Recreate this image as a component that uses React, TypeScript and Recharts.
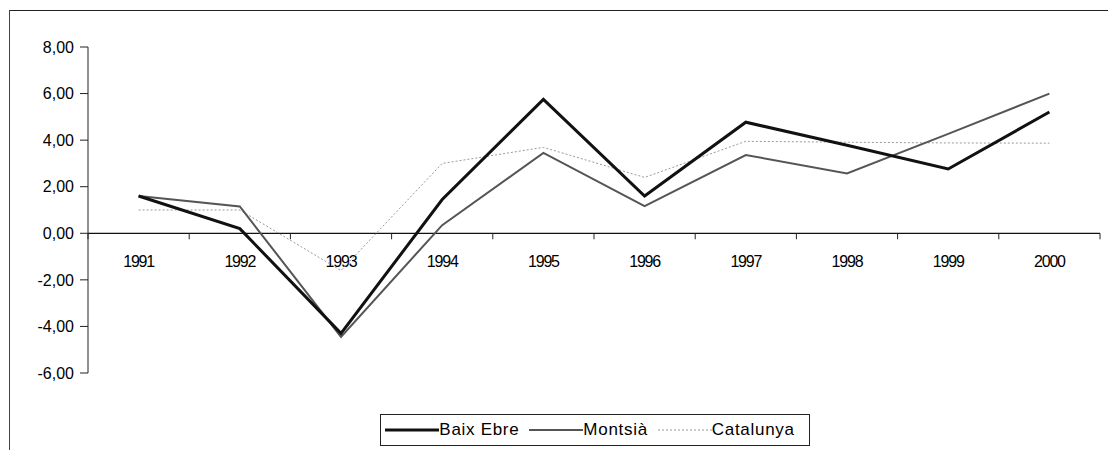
import React from 'react';
import { LineChart, Line, XAxis, YAxis, Legend, ReferenceLine } from 'recharts';

// Years (categories)
const years = ['1991', '1992', '1993', '1994', '1995', '1996', '1997', '1998', '1999', '2000'];

// Series values
const baixEbre = [1.6, 0.2, -4.3, 1.45, 5.75, 1.6, 4.77, 3.78, 2.76, 5.21];
const montsia = [1.6, 1.15, -4.45, 0.35, 3.45, 1.17, 3.36, 2.57, 4.27, 6.0];
const catalunya = [1.0, 1.0, -1.6, 3.0, 3.69, 2.4, 3.95, 3.91, 3.88, 3.87];

const yTicks = [-6, -4, -2, 0, 2, 4, 6, 8];

const data = years.map((year, i) => ({
  year,
  baixEbre: baixEbre[i],
  montsia: montsia[i],
  catalunya: catalunya[i],
}));

const FONT = '"Liberation Sans", Arial, sans-serif';
const CHART_W = 1108;
const PLOT_LEFT = 88;
const PLOT_RIGHT = 8;
// half a category on each side, so points sit in the middle of each year slot
const HALF_SLOT = (CHART_W - PLOT_LEFT - PLOT_RIGHT) / years.length / 2;

const fmt = (v: number) => v.toFixed(2).replace('.', ',');

// Category axis drawn along the zero line (Excel style: axis crosses at 0)
const ZeroAxis = (props: any) => {
  const vb = props.viewBox;
  if (!vb) return null;
  const n = years.length;
  const step = vb.width / n;
  return (
    <g>
      {Array.from({ length: n + 1 }).map((_, i) => (
        <line
          key={'t' + i}
          x1={vb.x + i * step}
          x2={vb.x + i * step}
          y1={vb.y}
          y2={vb.y + 6}
          stroke="#222"
          strokeWidth={1}
        />
      ))}
      {years.map((y, i) => (
        <text
          key={y}
          x={vb.x + (i + 0.5) * step}
          y={vb.y + 34}
          textAnchor="middle"
          fontFamily={FONT}
          fontSize={16}
          fill="#000"
          letterSpacing={-1.2}
        >
          {y}
        </text>
      ))}
    </g>
  );
};

const legendItems = [
  { name: 'Baix Ebre', stroke: '#111', width: 3, dash: undefined },
  { name: 'Montsià', stroke: '#555', width: 2, dash: undefined },
  { name: 'Catalunya', stroke: '#999', width: 1, dash: '2 2' },
];

const LegendBox = () => (
  <div style={{ paddingTop: 41, display: 'flex', justifyContent: 'center' }}>
    <div
      style={{
        border: '1px solid #222',
        height: 32,
        display: 'flex',
        alignItems: 'center',
        padding: '0 4px',
        fontFamily: FONT,
        fontSize: 17,
        color: '#000',
        boxSizing: 'border-box',
        marginLeft: 80,
      }}
    >
      {legendItems.map((it) => (
        <div key={it.name} style={{ display: 'flex', alignItems: 'center', marginRight: 10 }}>
          <svg width={54} height={10}>
            <line x1={0} x2={54} y1={5} y2={5} stroke={it.stroke} strokeWidth={it.width} strokeDasharray={it.dash} />
          </svg>
          <span style={{ letterSpacing: 0.7 }}>{it.name}</span>
        </div>
      ))}
    </div>
  </div>
);

export default function App() {
  return (
    <div style={{ position: 'absolute', left: 0, top: 0, width: CHART_W, height: 450, background: '#fff' }}>
      <div style={{ position: 'absolute', left: 9, top: 10, width: 1099, height: 440, borderTop: '1px solid #222', borderLeft: '1px solid #444' }} />
      <LineChart width={CHART_W} height={450} data={data} margin={{ top: 47, right: PLOT_RIGHT, left: 10, bottom: 4 }}>
        <XAxis dataKey="year" hide padding={{ left: HALF_SLOT, right: HALF_SLOT }} />
        <YAxis
          width={PLOT_LEFT - 10}
          domain={[-6, 8]}
          ticks={yTicks}
          tickFormatter={fmt}
          interval={0}
          tickSize={8}
          tickMargin={6}
          axisLine={{ stroke: '#222' }}
          tickLine={{ stroke: '#222' }}
          tick={{ fontFamily: FONT, fontSize: 16, fill: '#000' }}
        />
        <ReferenceLine y={0} stroke="#111" strokeWidth={1.2} label={(p: any) => <ZeroAxis {...p} />} />
        <Legend verticalAlign="bottom" content={() => <LegendBox />} />
        <Line type="linear" dataKey="catalunya" name="Catalunya" stroke="#999" strokeWidth={1} strokeDasharray="2 2" dot={false} isAnimationActive={false} />
        <Line type="linear" dataKey="montsia" name="Montsià" stroke="#555" strokeWidth={2} dot={false} isAnimationActive={false} />
        <Line type="linear" dataKey="baixEbre" name="Baix Ebre" stroke="#111" strokeWidth={3} dot={false} isAnimationActive={false} />
      </LineChart>
    </div>
  );
}
